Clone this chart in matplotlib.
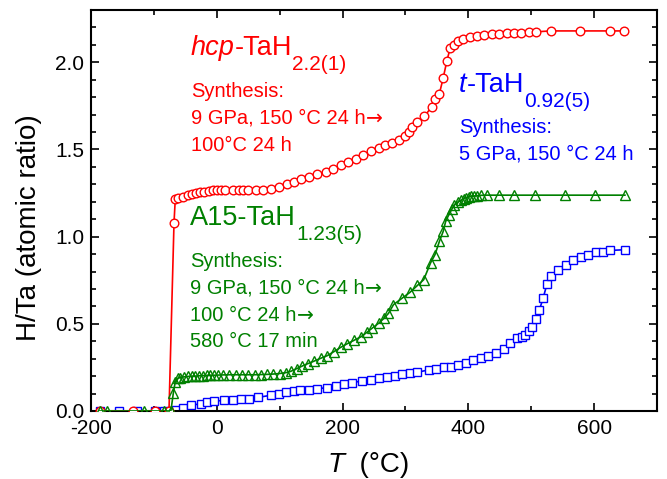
import matplotlib
matplotlib.use("Agg")
import matplotlib.pyplot as plt
from matplotlib.ticker import MultipleLocator

plt.rcParams['font.family'] = ['Liberation Sans', 'DejaVu Sans']
plt.rcParams['axes.unicode_minus'] = False

# hcp-TaH2.2(1)  (red circles)
T_hcp = [-186, -134, -98, -76, -68, -66, -61, -54, -46, -40,
         -33, -26, -20, -13, -6, 0, 6, 13, 25, 35,
         42, 50, 62, 74, 86, 99, 111, 123, 134, 146,
         160, 173, 185, 197, 209, 222, 233, 246, 258, 268,
         278, 290, 300, 306, 311, 319, 330, 342, 347, 354,
         360, 366, 371, 378, 384, 391, 402, 413, 425, 437,
         449, 461, 473, 484, 496, 508, 531, 578, 625, 648]
H_hcp = [0.0, 0.0, 0.0, 0.0, 1.08, 1.215, 1.22, 1.23, 1.24, 1.245,
         1.25, 1.255, 1.255, 1.262, 1.265, 1.265, 1.265, 1.265, 1.265, 1.265,
         1.265, 1.265, 1.27, 1.27, 1.275, 1.285, 1.30, 1.315, 1.33, 1.34,
         1.357, 1.373, 1.388, 1.41, 1.43, 1.444, 1.468, 1.49, 1.51, 1.525,
         1.54, 1.555, 1.58, 1.60, 1.629, 1.657, 1.69, 1.745, 1.788, 1.82,
         1.91, 2.01, 2.08, 2.10, 2.12, 2.135, 2.145, 2.153, 2.158, 2.16,
         2.163, 2.167, 2.17, 2.17, 2.175, 2.175, 2.18, 2.18, 2.18, 2.18]

# A15-TaH1.23(5)  (green triangles)
T_a15 = [-186, -175, -116, -84, -73, -69, -66, -62, -58, -52,
         -46, -40, -34, -28, -22, -16, -10, -4, 2, 10,
         20, 30, 40, 50, 60, 70, 80, 90, 100, 110,
         118, 127, 136, 145, 154, 165, 176, 186, 197, 207,
         218, 229, 239, 247, 258, 266, 273, 281, 295, 307,
         319, 329, 340, 347, 354, 360, 364, 369, 374, 378,
         384, 389, 393, 397, 401, 405, 409, 413, 420, 429,
         448, 472, 506, 554, 602, 649]
H_a15 = [0.0, 0.0, 0.0, 0.0, 0.0, 0.105, 0.168, 0.187, 0.192, 0.196,
         0.198, 0.2, 0.2, 0.202, 0.203, 0.204, 0.205, 0.205, 0.206, 0.207,
         0.208, 0.208, 0.208, 0.208, 0.208, 0.209, 0.21, 0.212, 0.215, 0.22,
         0.228, 0.243, 0.258, 0.272, 0.285, 0.302, 0.318, 0.34, 0.365, 0.385,
         0.405, 0.425, 0.452, 0.475, 0.505, 0.532, 0.56, 0.61, 0.648, 0.68,
         0.72, 0.753, 0.85, 0.897, 0.973, 1.03, 1.088, 1.126, 1.159, 1.184,
         1.2, 1.21, 1.218, 1.224, 1.228, 1.231, 1.233, 1.235, 1.237, 1.238,
         1.238, 1.238, 1.238, 1.238, 1.238, 1.238]

# t-TaH0.92(5)  (blue squares)
T_t = [-186, -156, -127, -98, -84, -72, -65, -54, -41, -25,
       -15, -5, 12, 25, 38, 51, 65, 86, 99, 110,
       123, 133, 146, 160, 176, 189, 202, 215, 231, 245,
       258, 271, 283, 295, 307, 319, 337, 349, 361, 373,
       384, 397, 408, 420, 432, 444, 456, 467, 478, 485,
       490, 496, 501, 507, 513, 519, 525, 531, 543, 556,
       567, 579, 591, 603, 614, 625, 649]
H_t = [0.0, 0.0, 0.0, 0.0, 0.0, 0.0, 0.005, 0.015, 0.033, 0.042,
       0.052, 0.055, 0.062, 0.064, 0.066, 0.069, 0.078, 0.09, 0.098, 0.108,
       0.114, 0.119, 0.123, 0.128, 0.134, 0.142, 0.153, 0.162, 0.173, 0.18,
       0.188, 0.197, 0.203, 0.212, 0.216, 0.222, 0.236, 0.243, 0.25, 0.255,
       0.264, 0.278, 0.293, 0.302, 0.316, 0.33, 0.355, 0.389, 0.418, 0.427,
       0.437, 0.461, 0.484, 0.527, 0.58, 0.648, 0.728, 0.772, 0.806, 0.839,
       0.864, 0.883, 0.897, 0.91, 0.914, 0.921, 0.925]

W, Hpx = 667, 479
fig = plt.figure(figsize=(W / 100, Hpx / 100), dpi=100)
ax = fig.add_axes([91 / W, 1 - 411 / Hpx, (657 - 91) / W, (411 - 10) / Hpx])

red, green, blue = '#ff0000', '#008000', '#0000ff'
ax.plot(T_hcp, H_hcp, '-', color=red, lw=1.2, marker='o', ms=6.2, mfc='white', mec=red, mew=1.0, zorder=3)
ax.plot(T_t, H_t, '-', color=blue, lw=1.2, marker='s', ms=5.6, mfc='white', mec=blue, mew=1.0, zorder=2)
ax.plot(T_a15, H_a15, '-', color=green, lw=1.2, marker='^', ms=7, mfc='none', mec=green, mew=1.0, zorder=4)

ax.set_xlim(-200, 700)
ax.set_ylim(0, 2.3)
ax.xaxis.set_major_locator(MultipleLocator(200))
ax.xaxis.set_minor_locator(MultipleLocator(100))
ax.yaxis.set_major_locator(MultipleLocator(0.5))
ax.yaxis.set_minor_locator(MultipleLocator(0.1))
ax.tick_params(which='both', direction='in', top=True, right=True, labelsize=15, width=1.2)
ax.tick_params(which='major', length=6)
ax.tick_params(which='minor', length=3.5)
ax.tick_params(axis='x', which='major', pad=6)
ax.tick_params(axis='y', which='major', pad=5)
for s in ax.spines.values():
    s.set_linewidth(1.5)

renderer = fig.canvas.get_renderer()

def seq(x, y, parts, color):
    """Draw consecutive text pieces starting at pixel (x, y) (baseline, from top-left)."""
    cx = x
    for part in parts:
        txt, size, italic, dy = part[:4]
        fam = part[4] if len(part) > 4 else None
        kw = {'family': fam} if fam else {}
        t = fig.text(cx / W, 1 - (y + dy) / Hpx, txt, fontsize=size,
                     style='italic' if italic else 'normal', color=color,
                     ha='left', va='baseline', **kw)
        cx += t.get_window_extent(renderer).width

big, sub, small = 19.5, 15, 14.5
ARR = ('→', small, False, 0, 'DejaVu Sans')

# red label
seq(191, 55, [('hcp', big, True, 0), ('-TaH', big, False, 0), ('2.2(1)', sub, False, 15)], red)
seq(191, 97, [('Synthesis:', small, False, 0)], red)
seq(191, 124, [('9 GPa, 150 °C 24 h', small, False, 0), ARR], red)
seq(191, 151, [('100°C 24 h', small, False, 0)], red)

# green label
seq(190, 225, [('A15-TaH', big, False, 0), ('1.23(5)', sub, False, 15)], green)
seq(190, 267, [('Synthesis:', small, False, 0)], green)
seq(190, 294, [('9 GPa, 150 °C 24 h', small, False, 0), ARR], green)
seq(190, 321, [('100 °C 24 h', small, False, 0), ARR], green)
seq(190, 347, [('580 °C 17 min', small, False, 0)], green)

# blue label
seq(459, 92, [('t', big, True, 0), ('-TaH', big, False, 0), ('0.92(5)', sub, False, 15)], blue)
seq(459, 133, [('Synthesis:', small, False, 0)], blue)
seq(459, 160, [('5 GPa, 150 °C 24 h', small, False, 0)], blue)

# axis labels
seq(327, 472, [('T', 20, True, 0), ('  (°C)', 20, False, 0)], 'black')
fig.text(36 / W, 1 - 228 / Hpx, 'H/Ta (atomic ratio)', fontsize=20, rotation=90,
         rotation_mode='anchor', ha='center', va='baseline')

fig.savefig('out.png', dpi=100)
